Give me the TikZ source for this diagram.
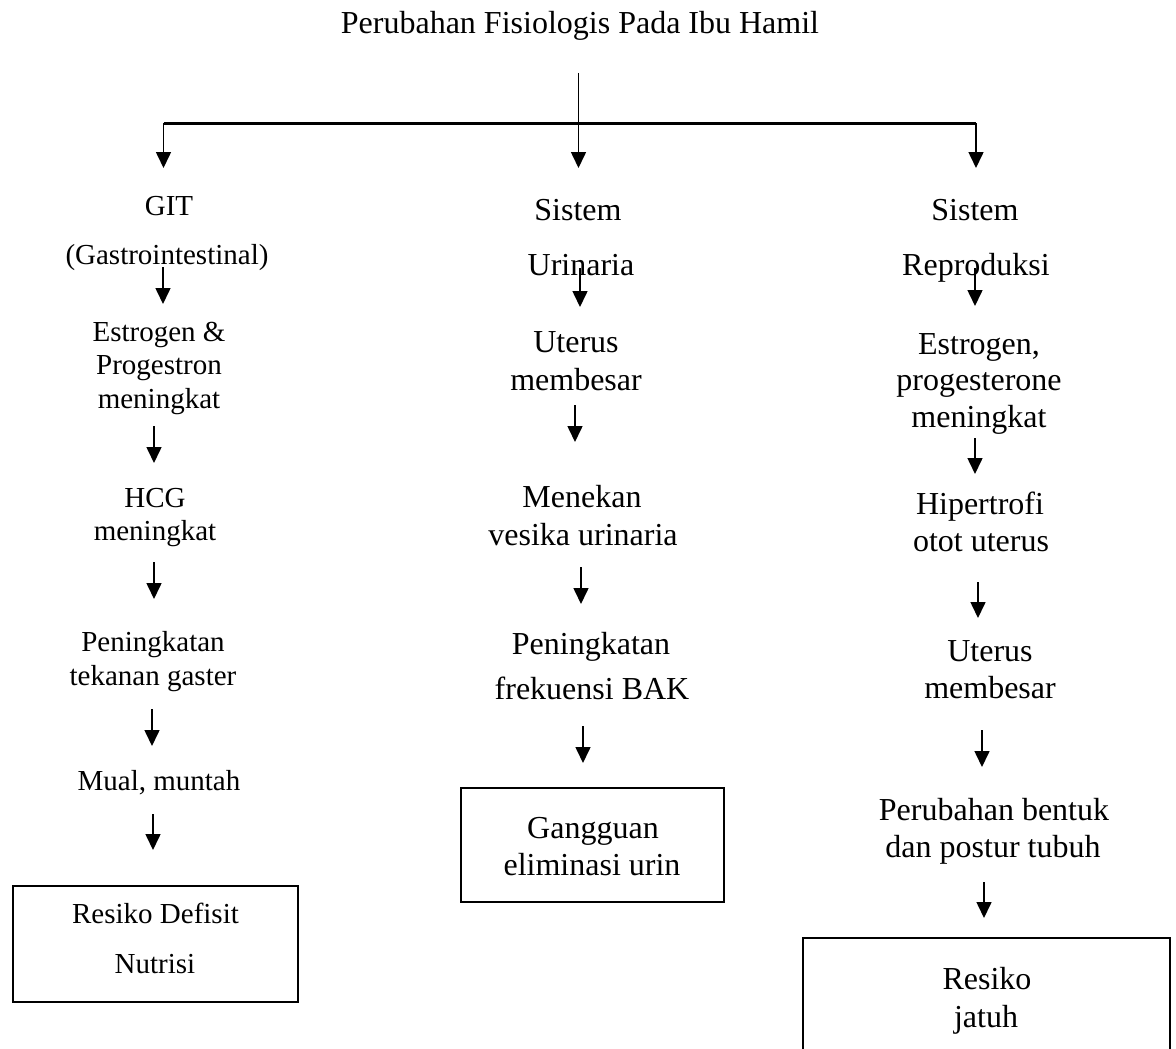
\documentclass[tikz,border=0pt]{standalone}
\usepackage{fontspec}
\setmainfont{Liberation Serif}
\usetikzlibrary{arrows.meta}
\begin{document}
\begin{tikzpicture}[x=1pt,y=-1pt,
  lbl/.style={anchor=base, inner sep=0pt, font=\fontsize{32}{37}\selectfont},
  lbls/.style={anchor=base, inner sep=0pt, font=\fontsize{29}{33}\selectfont},
  arr/.style={-{Triangle[width=15pt,length=16pt]}, line width=1.6pt},
  boxst/.style={draw, line width=2pt, inner sep=0pt}]
\clip (0,0) rectangle (1176,1049);
\fill[white] (0,0) rectangle (1176,1049);

% title and trunk
\node[lbl] (title) at (580,33.5) {Perubahan Fisiologis Pada Ibu Hamil};
\coordinate (tv) at (578.5,73);
\coordinate (hj) at (578.5,123);
\coordinate (hl) at (163.5,123);
\coordinate (hr) at (976,123);
\draw[line width=1.2pt] (tv) -- (hj);
\draw[line width=3pt] (hl) -- (hr);
\coordinate (e0l) at (163.5,168);
\coordinate (e0m) at (578.5,168);
\coordinate (e0r) at (976,168);
\draw[arr] (hl) -- (e0l);
\draw[arr] (hj) -- (e0m);
\draw[arr] (hr) -- (e0r);

% ---------- left column ----------
\node[lbls] (l1a) at (169,215) {GIT};
\node[lbls] (l1b) at (167,264) {(Gastrointestinal)};
\node[lbls] (l2a) at (159,341) {Estrogen \&};
\node[lbls] (l2b) at (159,374) {Progestron};
\node[lbls] (l2c) at (159,408) {meningkat};
\node[lbls] (l3a) at (155,507) {HCG};
\node[lbls] (l3b) at (155,540) {meningkat};
\node[lbls] (l4a) at (153,651) {Peningkatan};
\node[lbls] (l4b) at (153,685) {tekanan gaster};
\node[lbls] (l5a) at (159,790) {Mual, muntah};
\node[boxst, minimum width=285pt, minimum height=116pt] (boxL) at (155.5,944) {};
\node[lbls] (l6a) at (155.5,923) {Resiko Defisit};
\node[lbls] (l6b) at (155,973) {Nutrisi};

\coordinate (l1s) at (163,267);  \coordinate (l1e) at (163,304);
\coordinate (l2s) at (154,426);  \coordinate (l2e) at (154,463);
\coordinate (l3s) at (154,562);  \coordinate (l3e) at (154,599);
\coordinate (l4s) at (152,709);  \coordinate (l4e) at (152,746);
\coordinate (l5s) at (153,814);  \coordinate (l5e) at (153,850);
\draw[arr] (l1s) -- (l1e);
\draw[arr] (l2s) -- (l2e);
\draw[arr] (l3s) -- (l3e);
\draw[arr] (l4s) -- (l4e);
\draw[arr] (l5s) -- (l5e);

% ---------- middle column ----------
\node[lbl] (m1a) at (578,220) {Sistem};
\node[lbl] (m1b) at (581,275) {Urinaria};
\node[lbl] (m2a) at (576,352) {Uterus};
\node[lbl] (m2b) at (576,390) {membesar};
\node[lbl] (m3a) at (582,507) {Menekan};
\node[lbl] (m3b) at (583,545) {vesika urinaria};
\node[lbl] (m4a) at (591,654) {Peningkatan};
\node[lbl] (m4b) at (592,699) {frekuensi BAK};
\node[boxst, minimum width=263pt, minimum height=114pt] (boxM) at (592.5,845) {};
\node[lbl] (m5a) at (593,838) {Gangguan};
\node[lbl] (m5b) at (592,875) {eliminasi urin};

\coordinate (m1s) at (580,268);  \coordinate (m1e) at (580,307);
\coordinate (m2s) at (575,405);  \coordinate (m2e) at (575,442);
\coordinate (m3s) at (581,567);  \coordinate (m3e) at (581,604);
\coordinate (m4s) at (583,726);  \coordinate (m4e) at (583,763);
\draw[arr] (m1s) -- (m1e);
\draw[arr] (m2s) -- (m2e);
\draw[arr] (m3s) -- (m3e);
\draw[arr] (m4s) -- (m4e);

% ---------- right column ----------
\node[lbl] (r1a) at (975,220) {Sistem};
\node[lbl] (r1b) at (976,275) {Reproduksi};
\node[lbl] (r2a) at (979,354) {Estrogen,};
\node[lbl] (r2b) at (979,390) {progesterone};
\node[lbl] (r2c) at (979,427) {meningkat};
\node[lbl] (r3a) at (980,514) {Hipertrofi};
\node[lbl] (r3b) at (981,551) {otot uterus};
\node[lbl] (r4a) at (990,661) {Uterus};
\node[lbl] (r4b) at (990,698) {membesar};
\node[lbl] (r5a) at (994,820) {Perubahan bentuk};
\node[lbl] (r5b) at (993,857) {dan postur tubuh};
\node[boxst, minimum width=367pt, minimum height=162pt] (boxR) at (986.5,1019) {};
\node[lbl] (r6a) at (987,989) {Resiko};
\node[lbl] (r6b) at (986,1027) {jatuh};

\coordinate (r1s) at (975,268);  \coordinate (r1e) at (975,306);
\coordinate (r2s) at (975,438);  \coordinate (r2e) at (975,474);
\coordinate (r3s) at (978,582);  \coordinate (r3e) at (978,618);
\coordinate (r4s) at (982,730);  \coordinate (r4e) at (982,767);
\coordinate (r5s) at (984,882);  \coordinate (r5e) at (984,918);
\draw[arr] (r1s) -- (r1e);
\draw[arr] (r2s) -- (r2e);
\draw[arr] (r3s) -- (r3e);
\draw[arr] (r4s) -- (r4e);
\draw[arr] (r5s) -- (r5e);
\end{tikzpicture}
\end{document}
